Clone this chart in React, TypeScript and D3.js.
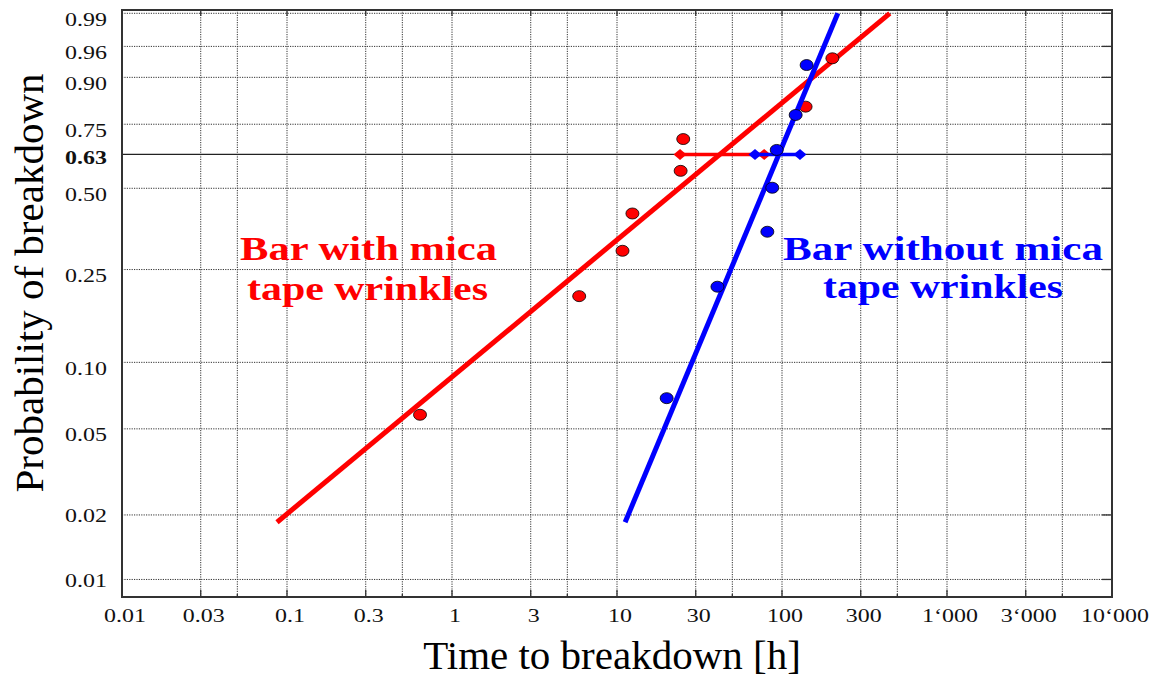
import React from "react";
import * as d3 from "d3";

// ---------- data ----------
const X_TICKS = [0.01, 0.03, 0.1, 0.3, 1, 3, 10, 30, 100, 300, 1000, 3000, 10000];
const X_TICK_LABELS = ["0.01", "0.03", "0.1", "0.3", "1", "3", "10", "30", "100", "300", "1‘000", "3‘000", "10‘000"];
const X_GRID = [0.03, 0.05, 0.1, 0.3, 0.5, 1, 3, 5, 10, 30, 50, 100, 300, 500, 1000, 3000, 5000];
const X_MINOR = [0.05, 0.5, 5, 50, 500, 5000];

const Y_TICKS = [0.01, 0.02, 0.05, 0.1, 0.25, 0.5, 0.632, 0.75, 0.9, 0.96, 0.99];
const Y_TICK_LABELS = ["0.01", "0.02", "0.05", "0.10", "0.25", "0.50", "0.63", "0.75", "0.90", "0.96", "0.99"];
const CHAR_P = 0.632;

const RED_T = [0.64, 5.9, 10.8, 12.4, 24.3, 25.2, 139, 202];
const RED_P = [0.058, 0.194, 0.297, 0.41, 0.567, 0.693, 0.813, 0.941];
const BLUE_T = [20.0, 40.6, 81.5, 87.3, 92.9, 121, 141];
const BLUE_P = [0.069, 0.2125, 0.3515, 0.502, 0.65, 0.784, 0.928];

const RED_FIT_T = [0.087, 450];
const RED_FIT_P = [0.0185, 0.99];
const BLUE_FIT_T = [11.2, 218];
const BLUE_FIT_P = [0.0185, 0.99];

const RED_CI = [24.1, 78];
const BLUE_CI = [68.6, 128.5];

const RED_LABEL = ["Bar with mica", "tape wrinkles"];
const BLUE_LABEL = ["Bar without mica", "tape wrinkles"];
const X_TITLE = "Time to breakdown [h]";
const Y_TITLE = "Probability of breakdown";

// ---------- helpers ----------
const weib = (p: number) => Math.log(-Math.log(1 - p));
const W = 1158, H = 680;
const L = 122, R = 1112, T = 10, B = 597;

const x = d3.scaleLog().domain([0.01, 10000]).range([L, R]);
const yW = d3.scaleLinear().domain([-4.79, 1.563]).range([B, T]);
const y = (p: number) => yW(weib(p));

const RED = "#ff0000";
const BLUE = "#0000ff";
const SERIF = "'Liberation Serif', 'Times New Roman', serif";

const charW: Record<string, number> = { ".": 0.25, "‘": 0.333 };
const natWidth = (s: string, fs: number) =>
  s.split("").reduce((a, c) => a + (charW[c] ?? 0.5), 0) * fs;

const yLabelDy: Record<string, number> = { "0.63": 10, "0.02": 7, "0.01": 7.5 };

function diamond(cx: number, cy: number, rx = 6.5, ry = 5.5) {
  return `${cx - rx},${cy} ${cx},${cy - ry} ${cx + rx},${cy} ${cx},${cy + ry}`;
}

export default function App() {
  const line = d3
    .line<[number, number]>()
    .x((d) => x(d[0]))
    .y((d) => y(d[1]));
  const redFit = line(RED_FIT_T.map((t, i) => [t, RED_FIT_P[i]]));
  const blueFit = line(BLUE_FIT_T.map((t, i) => [t, BLUE_FIT_P[i]]));
  const fs = 19;
  const stretch = 1.26;

  return (
    <svg
      width={W}
      height={H}
      style={{ position: "absolute", left: 0, top: 0, display: "block", background: "#fff" }}
      fontFamily={SERIF}
    >
      <rect x={0} y={0} width={W} height={H} fill="#fff" />
      {/* grid */}
      {X_GRID.map((v) => (
        <line key={"xg" + v} x1={x(v)} x2={x(v)} y1={T} y2={B} stroke="#333" strokeWidth={1} strokeDasharray="1.2,1.2" />
      ))}
      {Y_TICKS.filter((p) => p !== CHAR_P).map((p) => (
        <line key={"yg" + p} x1={L} x2={R} y1={y(p)} y2={y(p)} stroke="#333" strokeWidth={1} strokeDasharray="1.2,1.2" />
      ))}
      <line x1={L} x2={R} y1={y(CHAR_P)} y2={y(CHAR_P)} stroke="#222" strokeWidth={1.3} />

      {/* ticks */}
      {X_TICKS.slice(1, -1).map((v) => (
        <g key={"xt" + v}>
          <line x1={x(v)} x2={x(v)} y1={B} y2={B - 7} stroke="#333" strokeWidth={1.3} />
          <line x1={x(v)} x2={x(v)} y1={T} y2={T + 6} stroke="#333" strokeWidth={1.3} />
        </g>
      ))}
      {X_MINOR.map((v) => (
        <line key={"xm" + v} x1={x(v)} x2={x(v)} y1={B} y2={B - 3} stroke="#333" strokeWidth={1.3} />
      ))}
      {Y_TICKS.map((p) => (
        <line key={"yt" + p} x1={R} x2={R - 10} y1={y(p)} y2={y(p)} stroke="#333" strokeWidth={1.3} />
      ))}

      {/* frame */}
      <rect x={L} y={T} width={R - L} height={B - T} fill="none" stroke="#333" strokeWidth={2} />

      {/* tick labels */}
      {X_TICKS.map((v, i) => {
        const s = X_TICK_LABELS[i];
        return (
          <text
            key={"xl" + v}
            x={x(v) + 3}
            y={622}
            fontSize={fs}
            textAnchor="middle"
            fill="#111"
            textLength={natWidth(s, fs) * stretch}
            lengthAdjust="spacingAndGlyphs"
          >
            {s}
          </text>
        );
      })}
      {Y_TICKS.map((p, i) => {
        const s = Y_TICK_LABELS[i];
        return (
          <text
            key={"yl" + p}
            x={107}
            y={y(p) + (yLabelDy[s] ?? 12.5)}
            fontSize={fs}
            textAnchor="end"
            fontWeight={s === "0.63" ? "bold" : "normal"}
            fill="#111"
            textLength={natWidth(s, fs) * stretch}
            lengthAdjust="spacingAndGlyphs"
          >
            {s}
          </text>
        );
      })}

      {/* axis titles */}
      <text x={612} y={669} fontSize={41} textAnchor="middle" fill="#000">
        {X_TITLE}
      </text>
      <text
        transform={`translate(43,${283}) rotate(-90)`}
        fontSize={41}
        textAnchor="middle"
        fill="#000"
      >
        {Y_TITLE}
      </text>

      {/* red series */}
      <path d={redFit ?? ""} stroke={RED} strokeWidth={5} fill="none" />
      <line x1={x(RED_CI[0])} x2={x(RED_CI[1])} y1={y(CHAR_P)} y2={y(CHAR_P)} stroke={RED} strokeWidth={3.5} />
      {RED_CI.map((t) => (
        <polygon key={"rc" + t} points={diamond(x(t), y(CHAR_P))} fill={RED} />
      ))}
      {RED_T.map((t, i) => (
        <ellipse key={"rp" + i} cx={x(t)} cy={y(RED_P[i])} rx={6.5} ry={5.5} fill={RED} stroke="#000" strokeWidth={0.8} />
      ))}

      {/* blue series */}
      <path d={blueFit ?? ""} stroke={BLUE} strokeWidth={5} fill="none" />
      <line x1={x(BLUE_CI[0])} x2={x(BLUE_CI[1])} y1={y(CHAR_P)} y2={y(CHAR_P)} stroke={BLUE} strokeWidth={3.5} />
      {BLUE_CI.map((t) => (
        <polygon key={"bc" + t} points={diamond(x(t), y(CHAR_P))} fill={BLUE} />
      ))}
      {BLUE_T.map((t, i) => (
        <ellipse key={"bp" + i} cx={x(t)} cy={y(BLUE_P[i])} rx={6.5} ry={5.5} fill={BLUE} stroke="#000" strokeWidth={0.8} />
      ))}

      {/* annotations */}
      <g fontWeight="bold" fontSize={33} fill={RED}>
        <text x={240} y={260} textLength={257} lengthAdjust="spacingAndGlyphs">{RED_LABEL[0]}</text>
        <text x={247} y={300} textLength={241} lengthAdjust="spacingAndGlyphs">{RED_LABEL[1]}</text>
      </g>
      <g fontWeight="bold" fontSize={33} fill={BLUE}>
        <text x={783} y={260} textLength={320} lengthAdjust="spacingAndGlyphs">{BLUE_LABEL[0]}</text>
        <text x={823} y={298} textLength={240} lengthAdjust="spacingAndGlyphs">{BLUE_LABEL[1]}</text>
      </g>
    </svg>
  );
}
